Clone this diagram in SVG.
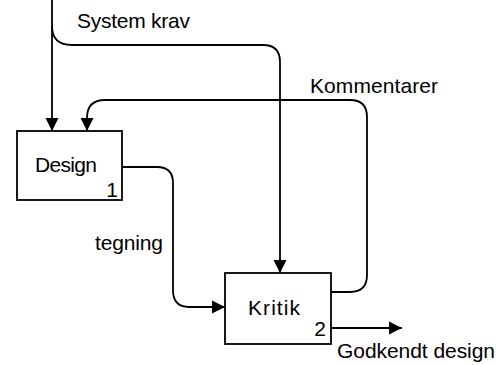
<svg xmlns="http://www.w3.org/2000/svg" width="500" height="365" viewBox="0 0 500 365">
  <style>
    .box { fill: #fff; stroke: #000; stroke-width: 1.8; }
    .line { fill: none; stroke: #000; stroke-width: 1.8; }
    text { font-family: "Liberation Sans", Arial, sans-serif; font-size: 21px; fill: #000; }
  </style>
  <defs>
    <marker id="arrow" markerUnits="userSpaceOnUse" markerWidth="14" markerHeight="14" viewBox="0 0 14 14" refX="13" refY="7" orient="auto">
      <path d="M0,0.5 L13,7 L0,13.5 Z" fill="#000"/>
    </marker>
  </defs>

  <rect width="500" height="365" fill="#fff"/>

  <g id="connectors">
    <!-- input requirements into Design -->
    <path class="line" d="M52,0 V131" marker-end="url(#arrow)"/>
    <!-- branch of requirements into Kritik -->
    <path class="line" d="M52,26 Q52,45 72,45 H263 Q280,45 280,62 V273" marker-end="url(#arrow)"/>
    <!-- feedback loop Kritik -> Design -->
    <path class="line" d="M331,292 H350 Q367,292 367,275 V117 Q367,100 350,100 H105 Q87,100 87,118 V131" marker-end="url(#arrow)"/>
    <!-- drawing from Design to Kritik -->
    <path class="line" d="M122,167 H157 Q173,167 173,183 V290 Q173,307 189,307 H225" marker-end="url(#arrow)"/>
    <!-- approved output -->
    <path class="line" d="M331,328 H402" marker-end="url(#arrow)"/>
  </g>

  <g id="design">
    <rect class="box" x="17" y="131" width="105" height="69"/>
    <text x="35" y="172" textLength="62">Design</text>
    <text x="118" y="197" text-anchor="end">1</text>
  </g>

  <g id="kritik">
    <rect class="box" x="225" y="273" width="106" height="71"/>
    <text x="248" y="315" textLength="52">Kritik</text>
    <text x="326" y="336" text-anchor="end">2</text>
  </g>

  <g id="labels">
    <text x="77" y="28" textLength="113">System krav</text>
    <text x="310" y="93" textLength="128">Kommentarer</text>
    <text x="95" y="250" textLength="68">tegning</text>
    <text x="337" y="358" textLength="158">Godkendt design</text>
  </g>
</svg>
